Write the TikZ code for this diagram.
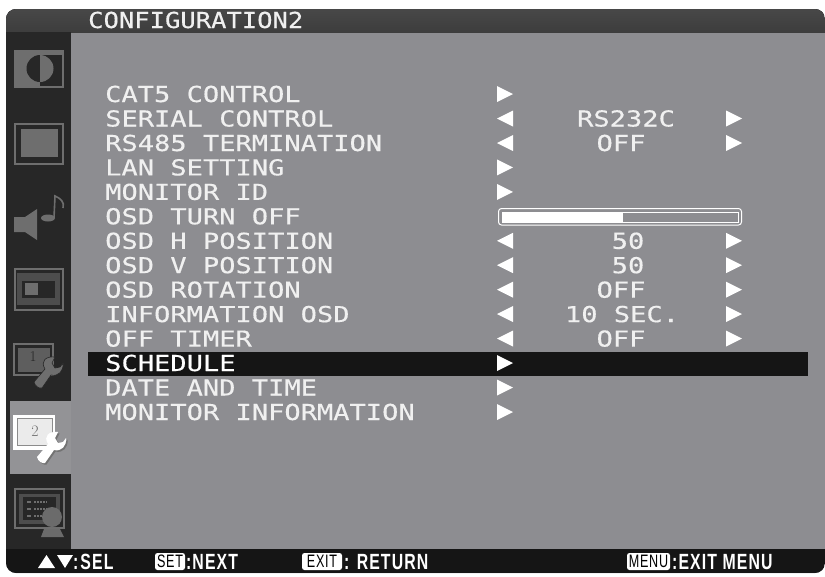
\documentclass[tikz,border=0pt]{standalone}
\usepackage{fontspec}
\newfontfamily\osdfont[FakeStretch=1.23,FakeBold=0.4]{DejaVu Sans Mono}
\newfontfamily\titlefont[FakeStretch=1.16,FakeBold=0.4]{DejaVu Sans Mono}
\newfontfamily\barfont[FakeStretch=0.72,LetterSpace=5]{Liberation Sans Bold}
\newfontfamily\keyfont[FakeStretch=0.7,LetterSpace=4]{Liberation Sans}
\newcommand{\wrenchshape}{(-18,14) -- (-7,1) .. controls (-12,-7) and (-6,-12) .. (3,-11) -- (0,-5) -- (3,0) -- (8,-1) -- (11,-5) .. controls (12,3) and (6,9) .. (-1,7) -- (-10,20) .. controls (-13,21) and (-17,18) .. (-18,14) -- cycle}
\begin{document}
\begin{tikzpicture}[x=1pt,y=-1pt,
  menutext/.style={anchor=base west,inner sep=0,text=osdwhite,font=\osdfont\fontsize{22}{22}\selectfont},
  valtext/.style={anchor=base,inner sep=0,text=osdwhite,font=\osdfont\fontsize{22}{22}\selectfont},
  titletext/.style={anchor=base west,inner sep=0,text=osdwhite,font=\titlefont\fontsize{22}{22}\selectfont},
  bartext/.style={anchor=base west,inner sep=0,text=white,font=\barfont\fontsize{22}{22}\selectfont},
  keybox/.style={anchor=center,inner sep=0,minimum height=17pt,rounded corners=2.5pt,fill=white,text=black,font=\keyfont\fontsize{18}{18}\selectfont},
  iconline/.style={draw=icongray,line width=1.4pt}]
\definecolor{osdwhite}{HTML}{F0F0F0}
\definecolor{panelgray}{HTML}{8D8D91}
\definecolor{icongray}{HTML}{6E6E6E}
\definecolor{sidedark}{HTML}{272727}
\definecolor{barblack}{HTML}{151515}
\useasboundingbox (0,0) rectangle (825,576);
\fill[white] (0,0) rectangle (825,576);
% frame
\fill[panelgray,rounded corners=10pt] (6,9) rectangle (825,573);
\begin{scope}
\clip[rounded corners=10pt] (6,9) rectangle (825,573);
\fill[top color=black!72,bottom color=black!76] (6,9) rectangle (825,32);
\fill[sidedark] (6,32) rectangle (71,401);
\fill[sidedark] (6,474) rectangle (71,549);
\fill[panelgray!95!white] (10,401) rectangle (71,474);
\fill[barblack] (6,549) rectangle (825,573);
\fill[sidedark] (6,401) rectangle (10,474);
\end{scope}
% contrast icon
\fill[icongray] (14,50) rectangle (64,88);
\fill[sidedark] (40,55) rectangle (62,86);
\fill[sidedark] (40,55) arc[start angle=-90,end angle=-270,radius=13.5] -- cycle;
\fill[icongray] (40,55) arc[start angle=-90,end angle=90,radius=13.5] -- cycle;
% screen icon
\draw[iconline,line width=2pt] (15,124) rectangle (63,164);
\fill[icongray] (21,129) rectangle (58,157);
% sound icon
\fill[icongray] (14,217) -- (25,217) -- (37,209) -- (37,240) -- (25,232) -- (14,232) -- cycle;
\fill[icongray] (48,218) ellipse[x radius=7,y radius=3.5];
\draw[draw=icongray,line width=1.6pt] (54,218) -- (55,196) .. controls (60,198) and (65,202) .. (63,208);
% picture icon
\draw[iconline,line width=1.6pt] (15,269) rectangle (63,310);
\fill[icongray!70!black] (17,273) rectangle (60,305);
\fill[sidedark] (22,281) rectangle (55,298);
\fill[icongray] (25,283) rectangle (38,295);
% config 1 icon
\draw[iconline,line width=1.5pt] (14,344) rectangle (53,375);
\fill[icongray!85!black] (18,348) rectangle (50,372);
\node[inner sep=0,text=black!85,font=\fontsize{15}{15}\selectfont] (one) at (33,357) {1};
\begin{scope}[shift={(52,368)}]
\fill[icongray,draw=sidedark,line width=0.6pt] \wrenchshape;
\end{scope}
% config 2 icon (selected)
\fill[white] (13,415) rectangle (55,450);
\draw[black!45,line width=0.7pt,fill=black!8] (17,418) rectangle (52,445);
\node[inner sep=0,text=black!55,font=\fontsize{16}{16}\selectfont] (two) at (35,431) {2};
\begin{scope}[shift={(55,443)}]
\fill[black!55] [shift={(1.5,1.5)}] \wrenchshape;
\fill[white] \wrenchshape;
\end{scope}
% schedule icon
\draw[iconline,line width=1.8pt] (15,489) rectangle (64,528);
\fill[icongray!70!black] (19,494) rectangle (60,524);
\fill[sidedark] (23,497) rectangle (56,520);
\foreach \yy in {502,509,516}{
  \fill[icongray] (27,\yy-1) rectangle (31,\yy+1);
  \draw[icongray,line width=1.2pt,dash pattern=on 2pt off 1pt] (34,\yy) -- (47,\yy);}
\fill[black!58] (52,517) circle[radius=10];
\fill[black!58] (41,537) -- (44,529) -- (60,529) -- (64,537) -- cycle;
% title
\node[titletext] (title) at (88,28) {CONFIGURATION2};
% selection bar
\fill[barblack] (88,352) rectangle (808,376);
% rows
\node[menutext] (r1) at (105,102) {CAT5 CONTROL};
\node[menutext] (r2) at (105,126.5) {SERIAL CONTROL};
\node[menutext] (r3) at (105,151) {RS485 TERMINATION};
\node[menutext] (r4) at (105,175.4) {LAN SETTING};
\node[menutext] (r5) at (105,199.9) {MONITOR ID};
\node[menutext] (r6) at (105,224.3) {OSD TURN OFF};
\node[menutext] (r7) at (105,248.8) {OSD H POSITION};
\node[menutext] (r8) at (105,273.2) {OSD V POSITION};
\node[menutext] (r9) at (105,297.7) {OSD ROTATION};
\node[menutext] (r10) at (105,322.1) {INFORMATION OSD};
\node[menutext] (r11) at (105,346.6) {OFF TIMER};
\node[menutext,text=white] (r12) at (105,371) {SCHEDULE};
\node[menutext] (r13) at (105,395.5) {DATE AND TIME};
\node[menutext] (r14) at (105,420) {MONITOR INFORMATION};
% values
\node[valtext] (v2) at (626,126.5) {RS232C};
\node[valtext] (v3) at (621,151) {OFF};
\node[valtext] (v7) at (628,248.8) {50};
\node[valtext] (v8) at (628,273.2) {50};
\node[valtext] (v9) at (621,297.7) {OFF};
\node[valtext] (v10) at (622,322.1) {10 SEC.};
\node[valtext] (v11) at (621,346.6) {OFF};
% arrows
\foreach \yy in {94,167.4,191.9,363,387.5,412}{
  \fill[white] (497,\yy-8) -- (513,\yy) -- (497,\yy+8) -- cycle;}
\foreach \yy in {118.5,143,240.8,265.2,289.7,314.1,338.6}{
  \fill[white] (513,\yy-8) -- (497,\yy) -- (513,\yy+8) -- cycle;
  \fill[white] (726,\yy-8) -- (742,\yy) -- (726,\yy+8) -- cycle;}
% slider
\draw[white,line width=1pt,rounded corners=3pt] (498.5,208.5) rectangle (741.5,225);
\draw[white,line width=1pt] (502,212) rectangle (738,222.5);
\fill[white] (502,212) rectangle (623,222.5);
% bottom bar
\fill[white] (38,568) -- (46.5,555) -- (55,568) -- cycle;
\fill[white] (57,555) -- (73,555) -- (65,568) -- cycle;
\node[bartext] (sel) at (73,569) {:\kern2pt SEL};
\node[keybox,minimum width=30pt] (set) at (170,561.5) {SET};
\node[bartext] (nxt) at (186,569) {:\kern1pt NEXT};
\node[keybox,minimum width=40pt] (ext) at (322,561.5) {EXIT};
\node[bartext] (ret) at (344,569) {: RETURN};
\node[keybox,minimum width=43pt] (mnu) at (648.5,561.5) {MENU};
\node[bartext] (mex) at (672,569) {:EXIT MENU};
\end{tikzpicture}
\end{document}
